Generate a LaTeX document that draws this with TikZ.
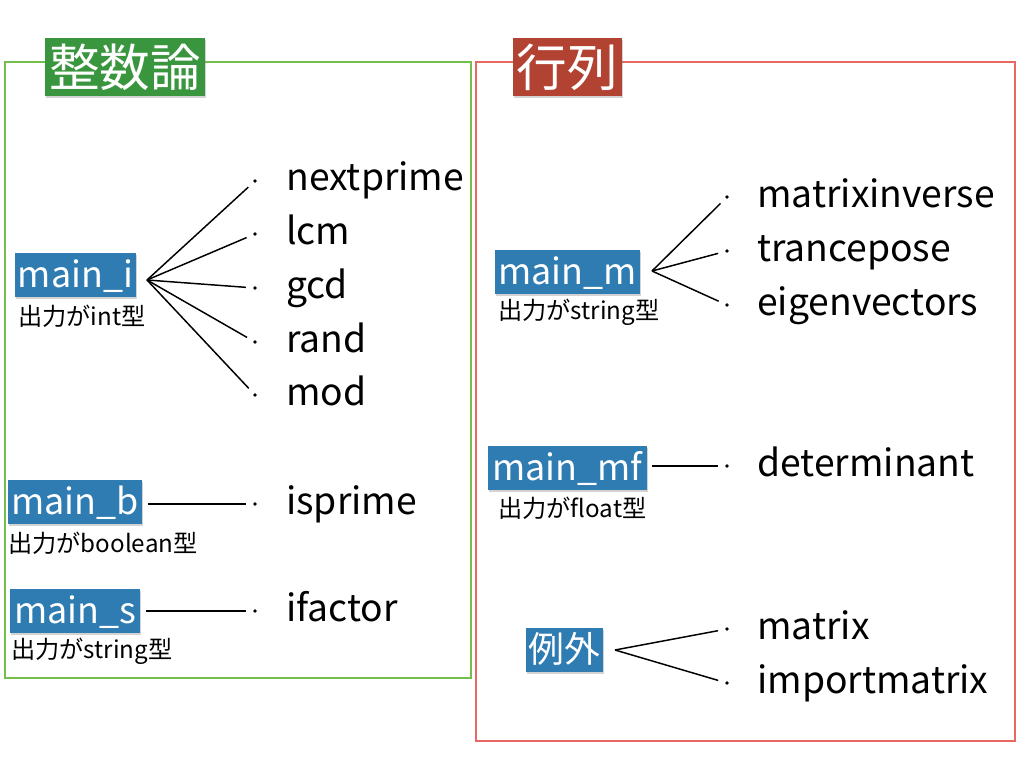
\documentclass[tikz,border=0pt]{standalone}
\usepackage{fontspec}
\setmainfont{Noto Sans CJK JP}
\usepackage{tikz}
\usetikzlibrary{shadows}% drop shadows under the labels

\definecolor{framegreen}{RGB}{116,190,76}
\definecolor{titlegreen}{RGB}{58,150,62}
\definecolor{framered}{RGB}{232,104,100}
\definecolor{titlered}{RGB}{178,66,50}
\definecolor{labelblue}{RGB}{46,124,178}

\tikzset{every node/.style={font=\fontsize{26.5}{28}\selectfont},
  title/.style={fill=#1, text=white, inner sep=0pt, minimum height=1.45cm,
    font=\fontsize{36}{38}\selectfont,
    drop shadow={shadow xshift=1pt, shadow yshift=-1.5pt, opacity=0.35}},
  label/.style={fill=labelblue, text=white, inner sep=0pt, minimum height=1.1cm,
    text height=21pt, text depth=2.6pt, font=\fontsize{25.5}{27}\selectfont,
    drop shadow={shadow xshift=1pt, shadow yshift=-1.5pt, opacity=0.35}},
  sub/.style={anchor=west, inner sep=0pt, font=\fontsize{17.2}{19}\selectfont},
  item/.style={anchor=base west, inner sep=0pt},
  dot/.style={circle, fill=black, inner sep=0pt, minimum size=2.6pt},
  conn/.style={line width=1.05pt, shorten >=5pt}}

\begin{document}
\begin{tikzpicture}[x=0.025cm, y=-0.025cm]
  \useasboundingbox (0,0) rectangle (1024,768);
  % frames
  \draw[framegreen, line width=1.1pt] (5,62) rectangle (471,678);
  \draw[framered, line width=1.1pt] (476,62) rectangle (1015,741);
  \node[title=titlegreen, minimum width=4cm] (tn) at (125,67) {整数論};
  \node[title=titlered, minimum width=2.725cm] (tm) at (567.5,67) {行列};

  % number theory
  \node[label, minimum width=3.025cm] (mi) at (75.5,275) {main\_i};
  \node[sub] (smi) at (18,316) {出力がint型};
  \coordinate (mi-o) at (147,280);
  \foreach \name/\y [count=\i] in {nextprime/181, lcm/234, gcd/288, rand/342, mod/395} {
    \node[dot] (bi\i) at (255,\y) {};
    \node[item] (ni\i) at (286,\y+10) {\name};
    \draw[conn] (mi-o) -- (bi\i);
  }
  \node[label, minimum width=3.35cm] (mb) at (75,502) {main\_b};
  \node[sub] (smb) at (8,543) {出力がboolean型};
  \node[dot] (bb) at (255,504) {};
  \node[item] (nb) at (286,514) {isprime};
  \draw[conn, shorten <=4pt] (mb.east |- bb) -- (bb);

  \node[label, minimum width=3.25cm] (ms) at (75,611) {main\_s};
  \node[sub] (sms) at (11,651) {出力がstring型};
  \node[dot] (bs) at (255,611) {};
  \node[item] (ns) at (286,621) {ifactor};
  \draw[conn, shorten <=4pt] (ms.east |- bs) -- (bs);

  % matrices
  \node[label, minimum width=3.625cm] (mm) at (567.5,272) {main\_m};
  \node[sub] (smm) at (498,312) {出力がstring型};
  \coordinate (mm-o) at (652,271);
  \foreach \name/\y [count=\i] in {matrixinverse/197, trancepose/251, eigenvectors/305} {
    \node[dot] (bm\i) at (727,\y) {};
    \node[item] (nm\i) at (757,\y+10) {\name};
    \draw[conn] (mm-o) -- (bm\i);
  }
  \node[label, minimum width=3.975cm] (mf) at (567.5,468) {main\_mf};
  \node[sub] (smf) at (498,508) {出力がfloat型};
  \node[dot] (bf) at (727,466) {};
  \node[item] (nf) at (757,476) {determinant};
  \draw[conn, shorten <=3pt] (mf.east |- bf) -- (bf);

  \node[label, minimum width=1.925cm] (ex) at (564.5,650) {例外};
  \coordinate (ex-o) at (615,650);
  \foreach \name/\y [count=\i] in {matrix/629, importmatrix/683} {
    \node[dot] (be\i) at (727,\y) {};
    \node[item] (ne\i) at (757,\y+10) {\name};
    \draw[conn] (ex-o) -- (be\i);
  }
\end{tikzpicture}
\end{document}
